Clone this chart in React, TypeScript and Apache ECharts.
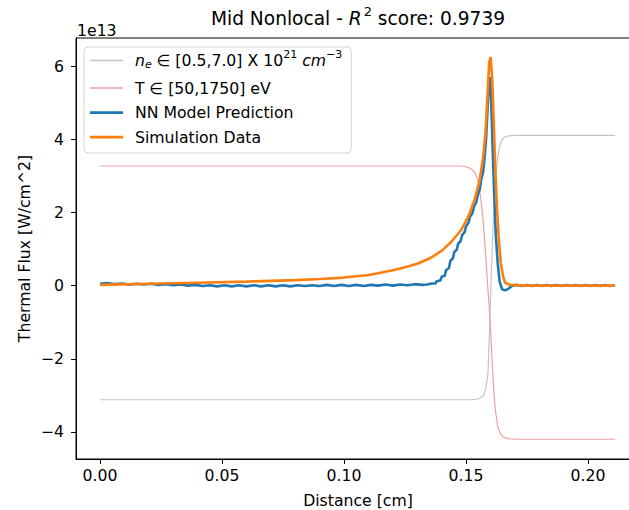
import React, { useEffect, useRef } from "react";
import * as echarts from "echarts";

// ---------- data (flux in units of 1e13 W/cm^2, distance in cm) ----------
const neX = [0, 0.152, 0.155, 0.157, 0.158, 0.159, 0.1598, 0.1605, 0.1612, 0.162, 0.1628, 0.1636, 0.1646, 0.166, 0.168, 0.172, 0.211];
const neY = [-3.12, -3.12, -3.1, -3.02, -2.85, -2.4, -0.85, 0.6, 1.8, 2.8, 3.4, 3.75, 3.98, 4.07, 4.1, 4.11, 4.11];

const tX = [0, 0.148, 0.15, 0.152, 0.1535, 0.1548, 0.156, 0.157, 0.1578, 0.1585, 0.1592, 0.1598, 0.1605, 0.1612, 0.162, 0.163, 0.164, 0.1655, 0.168, 0.172, 0.211];
const tY = [3.27, 3.27, 3.25, 3.2, 3.1, 2.9, 2.4, 1.8, 1.1, 0.35, -0.3, -0.85, -1.8, -2.7, -3.4, -3.85, -4.05, -4.15, -4.19, -4.2, -4.2];

const nnX = [
  0, 0.003, 0.006, 0.009, 0.012, 0.015, 0.018, 0.021, 0.024, 0.027, 0.03, 0.033, 0.036, 0.039, 0.042,
  0.045, 0.048, 0.051, 0.054, 0.057, 0.06, 0.063, 0.066, 0.069, 0.072, 0.075, 0.078, 0.081, 0.084,
  0.087, 0.09, 0.093, 0.096, 0.099, 0.102, 0.105, 0.108, 0.111, 0.114, 0.117, 0.12, 0.123, 0.126,
  0.129, 0.132, 0.134, 0.136, 0.1375, 0.138, 0.1395, 0.14, 0.1413, 0.1418, 0.143, 0.1436, 0.1446,
  0.1452, 0.1462, 0.1468, 0.1478, 0.1484, 0.1494, 0.15, 0.151, 0.1516, 0.1526, 0.1532, 0.1542, 0.1548,
  0.1556, 0.1562, 0.157, 0.1576, 0.1582, 0.1588, 0.1594, 0.1599, 0.1604, 0.161, 0.1616, 0.1622, 0.163,
  0.1638, 0.1648, 0.166, 0.1675, 0.169, 0.171, 0.173, 0.175, 0.177, 0.179, 0.181, 0.183, 0.185, 0.187,
  0.189, 0.191, 0.193, 0.195, 0.197, 0.199, 0.201, 0.203, 0.205, 0.207, 0.209, 0.211,
];
const nnY = [
  0.05, 0.07, 0.04, 0.06, 0.03, 0.05, 0.03, 0.05, 0.02, 0.04, 0.01, 0.03, 0.0, 0.02, -0.01,
  0.01, -0.02, 0.01, -0.02, 0.01, -0.02, 0.01, -0.02, 0.01, -0.02, 0.01, -0.02, 0.01, -0.01,
  0.01, -0.01, 0.02, -0.01, 0.02, -0.01, 0.02, -0.01, 0.02, 0.0, 0.03, 0.0, 0.03, 0.01,
  0.04, 0.02, 0.03, 0.06, 0.06, 0.12, 0.14, 0.24, 0.27, 0.42, 0.48, 0.68, 0.74,
  0.92, 0.98, 1.15, 1.22, 1.38, 1.46, 1.62, 1.72, 1.88, 1.98, 2.15, 2.28, 2.48,
  2.62, 2.9, 3.1, 3.5, 4.0, 4.8, 5.6, 5.7, 4.9, 3.6, 2.4, 1.4, 0.6,
  0.1, -0.1, -0.13, -0.08, 0.0, 0.02, -0.01, 0.02, -0.01, 0.02, -0.01, 0.02, -0.01, 0.02,
  -0.01, 0.02, -0.01, 0.02, -0.01, 0.02, -0.01, 0.02, -0.01, 0.02, -0.01, 0.01,
];

const simX = [0, 0.02, 0.04, 0.06, 0.08, 0.09, 0.1, 0.11, 0.115, 0.12, 0.125, 0.13, 0.135, 0.14, 0.144, 0.148, 0.151, 0.1535, 0.1555, 0.157, 0.158, 0.1588, 0.1595, 0.1601, 0.1607, 0.1614, 0.162, 0.1627, 0.1635, 0.1643, 0.1652, 0.166, 0.168, 0.175, 0.19, 0.211];
const simY = [0.02, 0.05, 0.08, 0.11, 0.15, 0.18, 0.22, 0.29, 0.35, 0.42, 0.5, 0.6, 0.74, 0.95, 1.2, 1.52, 1.9, 2.35, 2.85, 3.5, 4.2, 5.2, 6.1, 6.25, 5.7, 4.4, 3.2, 2.1, 1.2, 0.6, 0.25, 0.08, 0.02, 0.0, 0.0, 0.0];

const xTicks = [0, 0.05, 0.1, 0.15, 0.2];
const yTicks = [-4, -2, 0, 2, 4, 6];

const NE_NAME = "ne \u2208 [0.5,7.0] X 10^21 cm^-3";
const T_NAME = "T \u2208 [50,1750] eV";
const NN_NAME = "NN Model Prediction";
const SIM_NAME = "Simulation Data";

const FONT = "DejaVu Sans";
const FS = 15.7;

const THIN_ICON = "path://M0,0H24V1H0Z";
const THICK_ICON = "path://M0,0H12V1H0Z";

function pairs(xs: number[], ys: number[]) {
  return xs.map((x, i) => [x, ys[i]]);
}

export default function App() {
  const ref = useRef<HTMLDivElement>(null);

  useEffect(() => {
    if (!ref.current) return;
    const chart = echarts.init(ref.current, undefined, { renderer: "svg" });
    const base = { fontFamily: FONT, fontSize: FS, color: "#000" };
    const option: any = {
      animation: false,
      backgroundColor: "#fff",
      grid: {
        left: 76,
        right: 20,
        top: 38,
        bottom: 51,
        show: true,
        borderColor: "#000",
        borderWidth: 1,
        backgroundColor: "transparent",
        containLabel: false,
        outerBoundsMode: "none",
      },
      xAxis: {
        type: "value",
        min: -0.00984,
        max: 0.2213,
        name: "Distance [cm]",
        nameLocation: "middle",
        nameGap: 33,
        nameMoveOverlap: false,
        nameTextStyle: { ...base },
        axisLine: { show: true, onZero: false, lineStyle: { color: "#000", width: 1 } },
        axisTick: { show: true, length: 5, lineStyle: { color: "#000" }, customValues: xTicks },
        axisLabel: {
          ...base,
          margin: 8,
          customValues: xTicks,
          formatter: (v: number) => v.toFixed(2),
        },
        splitLine: { show: false },
      },
      yAxis: {
        type: "value",
        min: -4.74,
        max: 6.77,
        name: "Thermal Flux [W/cm^2]",
        nameLocation: "middle",
        nameGap: 44,
        nameMoveOverlap: false,
        nameTextStyle: { ...base },
        axisLine: { show: true, onZero: false, lineStyle: { color: "#000", width: 1 } },
        axisTick: { show: true, length: 5, lineStyle: { color: "#000" }, customValues: yTicks },
        axisLabel: {
          ...base,
          margin: 12,
          customValues: yTicks,
          formatter: (v: number) => (v < 0 ? "\u2212" + Math.abs(v) : String(v)),
        },
        splitLine: { show: false },
      },
      legend: {
        orient: "vertical",
        left: 84,
        top: 47,
        padding: [2, 9, 7.5, 6],
        itemWidth: 33,
        itemHeight: 14,
        itemGap: 7.5,
        backgroundColor: "#fff",
        borderColor: "#d4d4d4",
        borderWidth: 1,
        borderRadius: 4,
        data: [
          { name: NE_NAME, icon: THIN_ICON },
          { name: T_NAME, icon: THIN_ICON },
          { name: NN_NAME, icon: THICK_ICON },
          { name: SIM_NAME, icon: THICK_ICON },
        ],
        formatter: (name: string) => {
          if (name === NE_NAME)
            return "{it|n}{sub|e}{r| \u2208 [0.5,7.0] X 10}{sup|21}{r| }{it|cm}{sup|\u22123}";
          return "{r|" + name + "}";
        },
        textStyle: {
          ...base,
          lineHeight: 17,
          padding: [0, 0, 0, 7],
          rich: {
            r: { ...base, lineHeight: 17 },
            it: { ...base, fontStyle: "italic", lineHeight: 17 },
            sub: { fontFamily: FONT, fontSize: 11, fontStyle: "italic", color: "#000", padding: [8, 0, 0, 0], lineHeight: 23 },
            sup: { fontFamily: FONT, fontSize: 11, color: "#000", padding: [0, 0, 12, 0], lineHeight: 23 },
          },
        },
      },
      graphic: [
        {
          type: "text",
          x: 358,
          y: 18,
          style: {
            text: "Mid Nonlocal - {i|R}{s|2}{n| score: 0.9739}",
            align: "center",
            verticalAlign: "middle",
            fontFamily: FONT,
            fontSize: 18.6,
            fill: "#000",
            rich: {
              n: { fontFamily: FONT, fontSize: 18.6, fill: "#000" },
              i: { fontFamily: FONT, fontSize: 18.6, fontStyle: "italic", fill: "#000" },
              s: { fontFamily: FONT, fontSize: 13, fill: "#000", padding: [0, 0, 13, 2] },
            },
          },
        },
        {
          type: "text",
          x: 77,
          y: 30,
          style: {
            text: "1e13",
            align: "left",
            verticalAlign: "middle",
            fontFamily: FONT,
            fontSize: FS,
            fill: "#000",
          },
        },
      ],
      series: [
        {
          name: NE_NAME,
          type: "line",
          data: pairs(neX, neY),
          symbol: "none",
          lineStyle: { color: "#c4c4c4", width: 1.2 },
          itemStyle: { color: "#c4c4c4" },
        },
        {
          name: T_NAME,
          type: "line",
          data: pairs(tX, tY),
          symbol: "none",
          lineStyle: { color: "#ee9fa2", width: 1.2 },
          itemStyle: { color: "#ee9fa2" },
        },
        {
          name: NN_NAME,
          type: "line",
          data: pairs(nnX, nnY),
          symbol: "none",
          lineStyle: { color: "#1f77b4", width: 2.6 },
          itemStyle: { color: "#1f77b4" },
        },
        {
          name: SIM_NAME,
          type: "line",
          data: pairs(simX, simY),
          symbol: "none",
          lineStyle: { color: "#ff7f0e", width: 2.6 },
          itemStyle: { color: "#ff7f0e" },
        },
      ],
    };
    chart.setOption(option);
    return () => chart.dispose();
  }, []);

  return (
    <div
      style={{
        position: "fixed",
        left: 0,
        top: 0,
        width: 629,
        height: 510,
        overflow: "hidden",
        background: "#fff",
      }}
    >
      <div ref={ref} style={{ width: 660, height: 510 }} />
    </div>
  );
}
